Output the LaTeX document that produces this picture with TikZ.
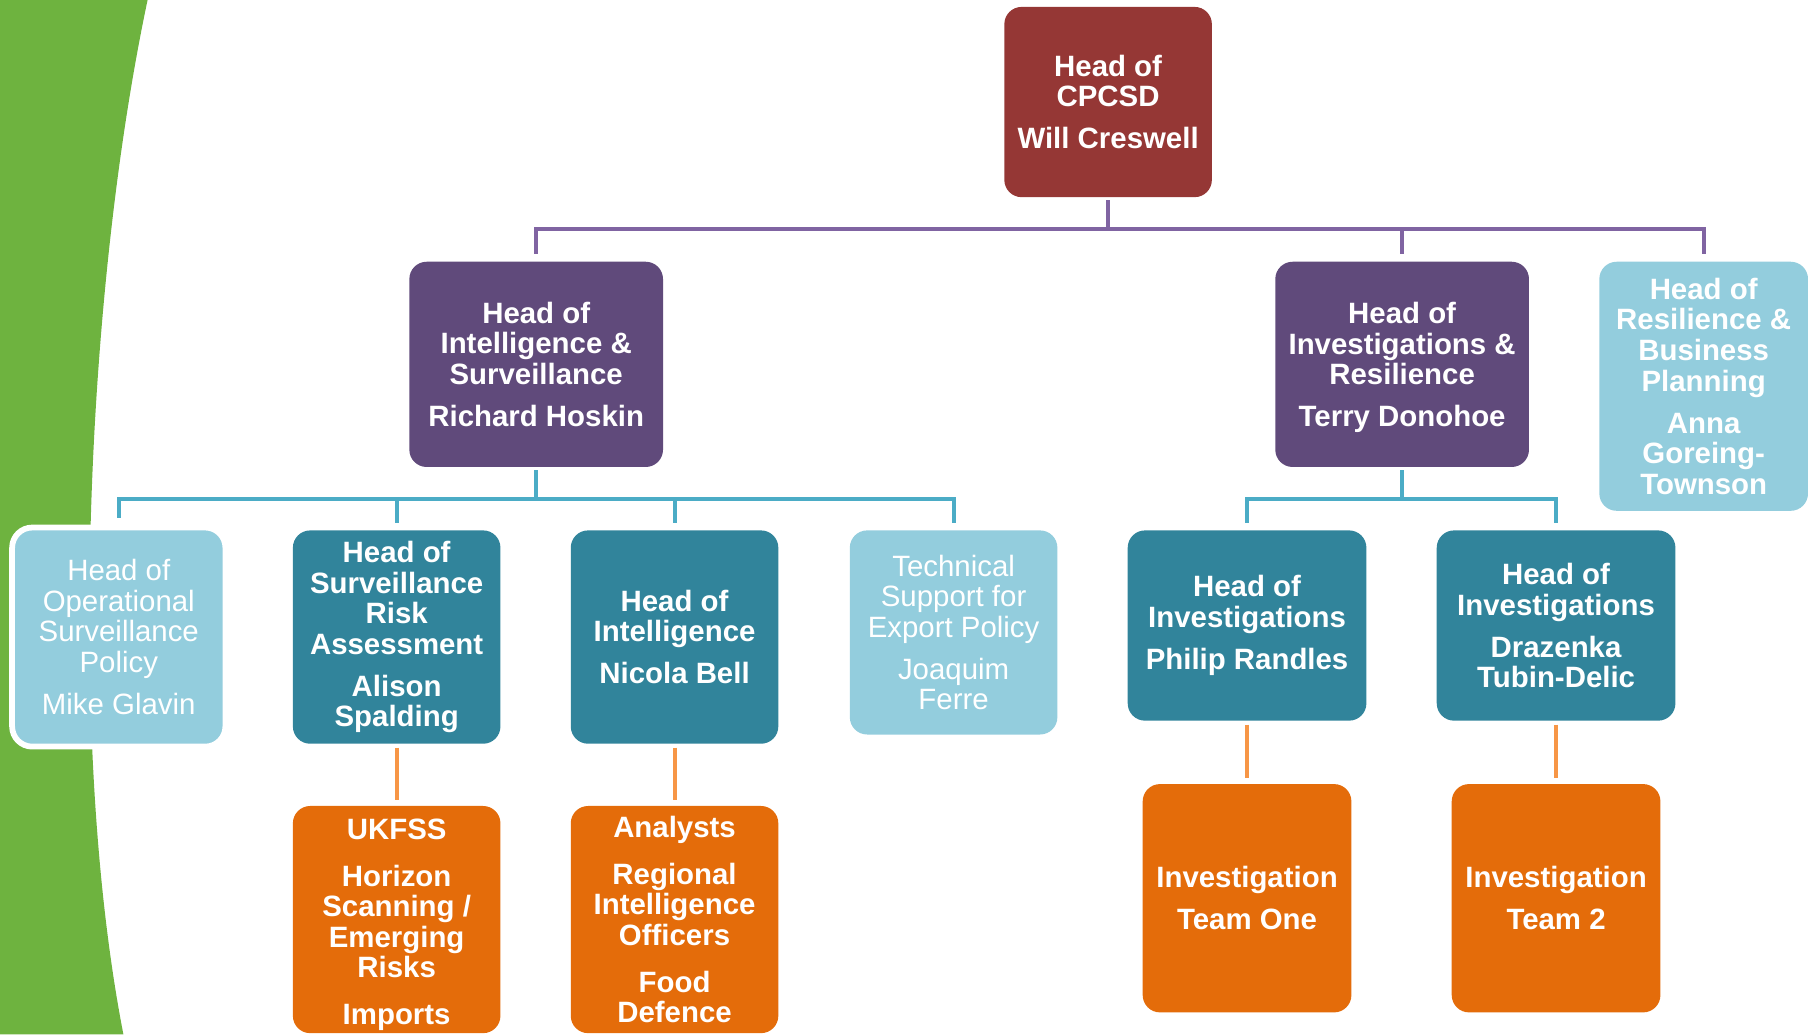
\documentclass[tikz,border=0pt]{standalone}
\usepackage{fontspec}
\setmainfont{Liberation Sans}
\definecolor{cGreen}{RGB}{110,179,63}
\definecolor{cRed}{RGB}{149,55,53}
\definecolor{cPurple}{RGB}{96,74,123}
\definecolor{cPurpleLine}{RGB}{128,100,162}
\definecolor{cLight}{RGB}{147,205,221}
\definecolor{cTeal}{RGB}{49,132,155}
\definecolor{cTealLine}{RGB}{75,172,198}
\definecolor{cOrange}{RGB}{228,108,10}
\definecolor{cOrangeLine}{RGB}{247,150,70}
\begin{document}
\begin{tikzpicture}[x=0.6pt,y=-0.6pt,
  box/.style={rounded corners=9pt, inner sep=0pt, align=center, text=white,
    font=\fontsize{15.3}{15.9}\selectfont\bfseries},
  redbox/.style={box, fill=cRed},
  purplebox/.style={box, fill=cPurple},
  lightbox/.style={box, fill=cLight},
  lightthin/.style={box, fill=cLight, font=\fontsize{15.3}{15.9}\selectfont},
  tealbox/.style={box, fill=cTeal},
  orangebox/.style={box, fill=cOrange},
  pline/.style={draw=cPurpleLine, line width=2.1pt},
  tline/.style={draw=cTealLine, line width=2.1pt},
  oline/.style={draw=cOrangeLine, line width=2.1pt},
]
\useasboundingbox (0,0) rectangle (1568,897);
% green background shape
\fill[cGreen] (0,0) -- (128,0) .. controls (75,250) and (57,640) .. (107,897) -- (0,897) -- cycle;

% level 1
\node[redbox, minimum width=108pt, minimum height=99pt] (top) at (961,88.5)
  {Head of\\CPCSD\\[6pt]Will Creswell};
% level 2
\node[purplebox, minimum width=132pt, minimum height=106.8pt] (rich) at (465,316)
  {Head of\\Intelligence \&\\Surveillance\\[6pt]Richard Hoskin};
\node[purplebox, minimum width=132pt, minimum height=106.8pt] (terry) at (1216,316)
  {\rule{0pt}{14.5pt}Head of\\Investigations \&\\Resilience\\[6pt]Terry Donohoe};
\node[lightbox, minimum width=108.6pt, minimum height=129.6pt] (res) at (1477.5,335)
  {Head of\\Resilience \&\\Business\\Planning\\[6pt]Anna\\Goreing-\\Townson};
% level 3
\node[lightthin, draw=white, line width=3pt, rounded corners=10.5pt,
  minimum width=111pt, minimum height=114pt] (oper) at (103,552.5)
  {Head of\\Operational\\Surveillance\\Policy\\[6pt]Mike Glavin};
\node[tealbox, minimum width=108pt, minimum height=111pt] (alison) at (344,552.5)
  {Head of\\Surveillance\\Risk\\Assessment\\[6pt]Alison\\Spalding};
\node[tealbox, minimum width=108pt, minimum height=111pt] (nicola) at (585,552.5)
  {Head of\\Intelligence\\[6pt]Nicola Bell};
\node[lightthin, minimum width=108pt, minimum height=106.2pt] (tech) at (827,548.5)
  {Technical\\Support for\\Export Policy\\[6pt]Joaquim\\Ferre};
\node[tealbox, minimum width=124.2pt, minimum height=99pt] (philip) at (1081.5,542.5)
  {Head of\\Investigations\\[6pt]Philip Randles};
\node[tealbox, minimum width=124.2pt, minimum height=99pt] (draz) at (1349.5,542.5)
  {Head of\\Investigations\\[6pt]Drazenka\\Tubin-Delic};
% level 4
\node[orangebox, minimum width=108pt, minimum height=118.2pt] (ukfss) at (344,797.5)
  {\rule{0pt}{16pt}UKFSS\\[8.4pt]Horizon\\Scanning /\\Emerging\\Risks\\[8.4pt]Imports};
\node[orangebox, minimum width=108pt, minimum height=118.2pt] (analysts) at (585,797.5)
  {Analysts\\[8.4pt]Regional\\Intelligence\\Officers\\[8.4pt]Food\\Defence};
\node[orangebox, minimum width=108.6pt, minimum height=118.8pt] (team1) at (1081.5,779)
  {Investigation\\[6pt]Team One};
\node[orangebox, minimum width=108.6pt, minimum height=118.8pt] (team2) at (1349.5,779)
  {Investigation\\[6pt]Team 2};

% purple connectors
\coordinate (pb) at (961,199);
\draw[pline, shorten <=1.5pt] (top.south) -- (pb);
\draw[pline] (pb) -| ([yshift=4pt]rich.north);
\draw[pline] (pb) -| ([yshift=4pt]terry.north);
\draw[pline] (pb) -| ([yshift=4pt]res.north);
% teal connectors (left)
\coordinate (tb1) at (465,433);
\draw[tline, shorten <=1.5pt] (rich.south) -- (tb1);
\draw[tline] (tb1) -| ([yshift=3.5pt]oper.north);
\draw[tline] (tb1) -| ([yshift=3.5pt]alison.north);
\draw[tline] (tb1) -| ([yshift=3.5pt]nicola.north);
\draw[tline] (tb1) -| ([yshift=3.5pt]tech.north);
% teal connectors (right)
\coordinate (tb2) at (1216,433);
\draw[tline, shorten <=1.5pt] (terry.south) -- (tb2);
\draw[tline] (tb2) -| ([yshift=3.5pt]philip.north);
\draw[tline] (tb2) -| ([yshift=3.5pt]draz.north);
% orange connectors
\draw[oline, shorten <=1.8pt, shorten >=3pt] (alison.south) -- (ukfss.north);
\draw[oline, shorten <=1.8pt, shorten >=3pt] (nicola.south) -- (analysts.north);
\draw[oline, shorten <=1.8pt, shorten >=3pt] (philip.south) -- (team1.north);
\draw[oline, shorten <=1.8pt, shorten >=3pt] (draz.south) -- (team2.north);
\end{tikzpicture}
\end{document}
